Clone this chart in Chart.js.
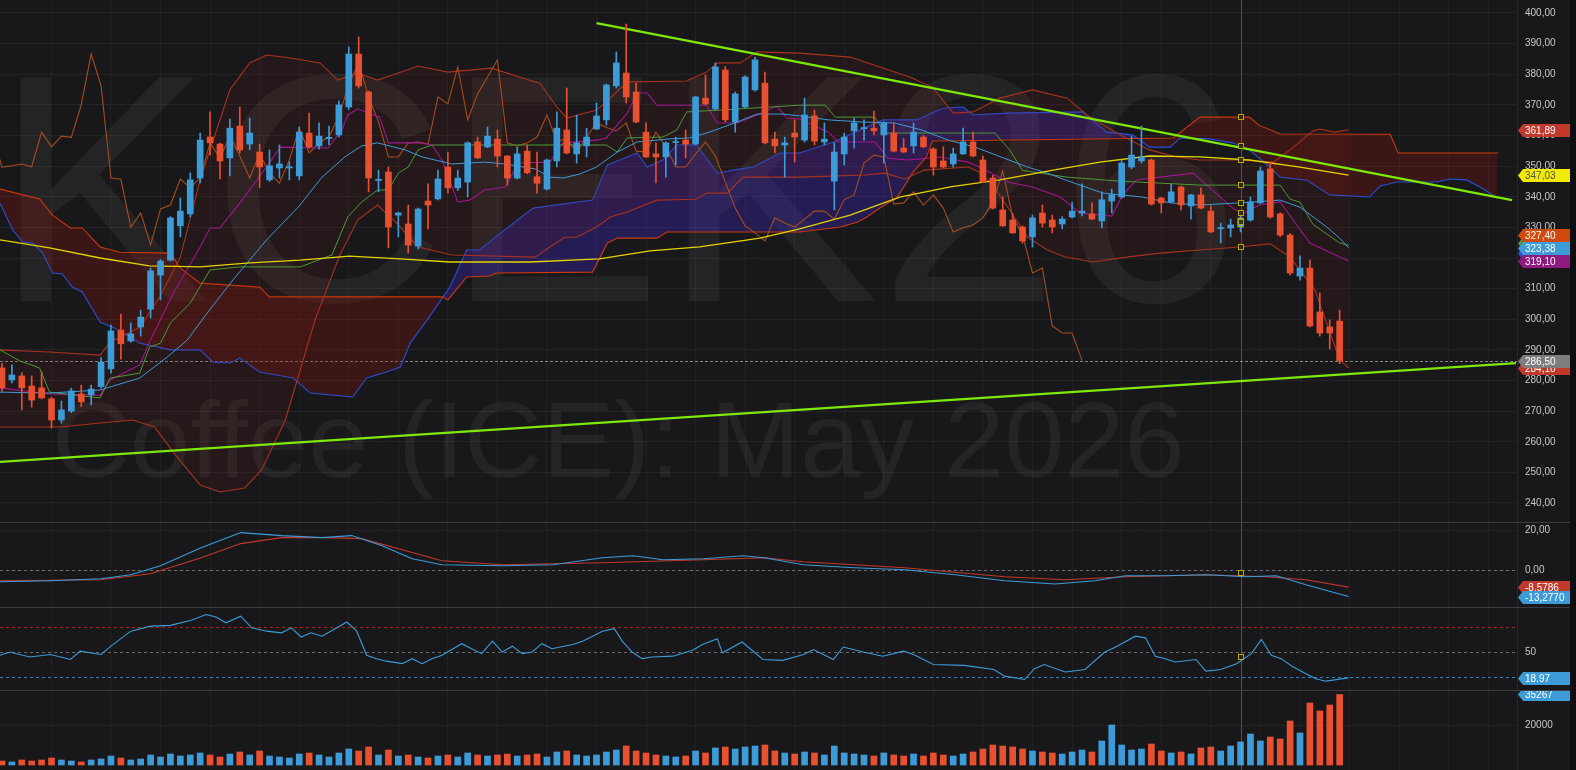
<!DOCTYPE html>
<html>
<head>
<meta charset="utf-8">
<script src="https://cdn.jsdelivr.net/npm/chart.js@4.4.1/dist/chart.umd.min.js"></script>
<style>
html, body { margin: 0; padding: 0; background: #18181b; overflow: hidden; }
#wrap { position: relative; width: 1576px; height: 770px; background: #18181b; }
.panel { position: absolute; left: 0; width: 1576px; }
.sep { position: absolute; left: 0; width: 1570px; height: 1px; background: #3c3c40; }
#edge { position: absolute; left: 1570px; top: 0; width: 6px; height: 770px; background: #0e0e10; }
</style>
</head>
<body>
<div id="wrap">
  <div class="panel" style="top:0;height:522px"><canvas id="price" width="1576" height="522"></canvas></div>
  <div class="sep" style="top:522px"></div>
  <div class="panel" style="top:523px;height:84px"><canvas id="macd" width="1576" height="84"></canvas></div>
  <div class="sep" style="top:607px"></div>
  <div class="panel" style="top:608px;height:82px"><canvas id="rsi" width="1576" height="82"></canvas></div>
  <div class="sep" style="top:690px"></div>
  <div class="panel" style="top:691px;height:79px"><canvas id="vol" width="1576" height="79"></canvas></div>
  <div id="edge"></div>
</div>
<script>
// --- candles (one per session, index 0..135) ---
const candleOpen = [
  284.1, 280.2, 281.5, 278.2, 277.6, 274.0, 267.1, 270.0, 275.6, 275.3,
  278.0, 283.8, 296.5, 292.9, 297.5, 303.3, 314.4, 319.3, 330.5, 334.4,
  346.1, 359.5, 357.2, 352.7, 363.1, 357.2, 354.6, 345.5, 349.4, 349.4,
  346.8, 360.8, 356.6, 359.0, 360.2, 369.3, 386.6, 374.2, 345.3, 348.1,
  334.0, 331.1, 323.9, 338.6, 339.3, 349.7, 342.9, 344.8, 357.9, 356.3,
  358.8, 353.3, 346.1, 354.9, 346.5, 342.5, 351.7, 361.8, 354.0, 356.6,
  362.1, 365.1, 376.2, 380.4, 374.2, 361.1, 354.0, 353.0, 357.7, 358.5,
  357.2, 372.2, 368.7, 381.4, 364.4, 369.3, 374.9, 377.1, 358.8, 356.9,
  360.8, 358.5, 366.4, 357.9, 345.1, 354.0, 361.5, 362.2, 362.4, 360.2,
  360.8, 355.9, 356.6, 359.5, 355.6, 351.7, 350.7, 354.0, 357.9, 352.0,
  346.1, 335.7, 332.4, 330.1, 326.9, 334.7, 332.4, 331.1, 333.4, 334.7,
  334.4, 332.1, 338.6, 339.9, 349.7, 351.7, 352.0, 339.6, 338.3, 343.2,
  337.0, 340.6, 335.3, 329.6, 329.8, 330.1, 332.4, 338.0, 349.1, 334.4,
  327.5, 314.1, 316.7, 302.4, 297.5, 299.4
];
const candleHigh = [
  285.5, 285.1, 282.5, 281.5, 282.9, 274.5, 273.3, 277.5, 278.5, 278.5,
  287.5, 298.1, 301.7, 298.8, 303.0, 316.7, 319.5, 333.5, 339.6, 347.8,
  360.8, 367.7, 357.5, 365.4, 369.3, 365.7, 357.2, 355.3, 356.9, 351.4,
  362.8, 367.3, 364.1, 363.1, 371.3, 388.9, 392.2, 374.5, 348.7, 349.7,
  335.0, 337.3, 336.3, 344.2, 348.7, 354.6, 348.7, 357.9, 359.5, 362.8,
  361.8, 353.5, 356.2, 356.9, 354.6, 352.3, 367.7, 375.5, 366.7, 362.4,
  370.6, 376.8, 387.3, 396.4, 377.1, 364.1, 357.6, 357.9, 359.5, 361.8,
  372.8, 379.8, 383.7, 382.5, 374.2, 379.5, 385.5, 380.7, 361.1, 359.5,
  365.1, 372.2, 368.3, 364.1, 357.6, 360.8, 365.7, 365.1, 368.0, 364.5,
  364.1, 359.0, 364.1, 360.0, 356.0, 356.3, 355.9, 362.4, 361.1, 353.3,
  347.0, 339.9, 334.5, 330.5, 334.0, 337.3, 334.0, 333.5, 338.3, 344.2,
  338.0, 341.6, 342.5, 352.0, 359.8, 363.1, 352.3, 339.8, 344.2, 343.5,
  340.8, 342.9, 337.0, 331.4, 332.7, 335.0, 339.9, 349.7, 351.3, 334.8,
  328.0, 320.7, 319.3, 308.6, 299.8, 303.0
];
const candleLow = [
  276.5, 279.2, 270.4, 271.3, 274.0, 264.5, 266.1, 269.5, 271.5, 272.0,
  277.5, 282.4, 287.0, 292.5, 294.5, 300.4, 306.3, 319.0, 326.9, 333.4,
  344.5, 353.6, 345.8, 346.8, 354.3, 355.3, 342.9, 345.0, 346.1, 345.5,
  345.5, 355.9, 355.5, 357.0, 359.5, 368.5, 375.5, 341.6, 341.6, 323.3,
  326.9, 321.6, 323.0, 329.5, 339.0, 341.2, 342.0, 339.9, 352.5, 356.0,
  349.7, 343.8, 345.8, 347.5, 341.2, 342.2, 349.7, 354.0, 351.0, 353.0,
  362.0, 363.4, 375.5, 370.6, 364.2, 352.8, 344.5, 346.4, 350.4, 352.7,
  357.0, 370.0, 368.3, 364.5, 361.1, 369.0, 374.5, 357.3, 354.3, 346.4,
  351.3, 357.9, 356.9, 356.9, 335.7, 350.4, 355.9, 358.5, 360.2, 351.0,
  354.6, 354.4, 354.3, 356.0, 347.1, 349.5, 349.7, 353.8, 353.0, 344.6,
  336.0, 330.3, 328.0, 324.9, 323.6, 330.1, 328.2, 329.5, 333.1, 333.7,
  332.5, 329.8, 334.7, 339.5, 349.1, 351.0, 337.3, 334.7, 338.0, 335.7,
  332.7, 336.0, 328.3, 324.9, 326.9, 328.5, 332.0, 337.8, 333.0, 327.0,
  314.5, 312.8, 297.5, 294.5, 290.3, 285.5
];
const candleClose = [
  277.6, 281.8, 277.6, 273.6, 274.3, 267.1, 270.4, 276.6, 273.0, 277.2,
  286.0, 296.2, 292.0, 295.2, 300.7, 315.8, 319.0, 333.1, 335.3, 345.5,
  358.5, 357.6, 351.7, 362.4, 355.3, 360.8, 349.7, 350.1, 350.7, 349.8,
  361.1, 356.3, 359.8, 359.4, 370.0, 386.6, 376.2, 346.1, 345.7, 330.1,
  334.7, 324.2, 336.0, 337.3, 345.8, 342.9, 346.1, 357.6, 352.7, 359.8,
  353.3, 346.1, 354.0, 347.8, 344.4, 352.0, 362.4, 354.3, 357.6, 359.5,
  366.4, 376.5, 383.7, 372.6, 364.4, 353.0, 353.0, 357.6, 357.9, 357.2,
  372.6, 370.3, 382.4, 365.1, 373.6, 379.1, 384.7, 357.6, 356.6, 357.6,
  359.5, 366.7, 358.2, 358.8, 354.6, 359.5, 364.1, 362.6, 361.5, 364.1,
  354.9, 354.6, 361.1, 356.3, 349.7, 349.7, 354.0, 357.9, 353.3, 344.8,
  336.3, 330.5, 328.2, 325.6, 333.1, 331.4, 330.1, 332.7, 335.3, 335.3,
  332.7, 339.0, 340.6, 351.0, 353.6, 353.0, 337.6, 338.0, 341.6, 337.3,
  340.6, 336.3, 328.5, 329.9, 330.8, 333.1, 338.3, 348.4, 333.4, 327.5,
  315.1, 316.7, 297.8, 295.5, 295.5, 286.5
];
const volumes = [
  2000, 1500, 2500, 2000, 2500, 3500, 2500, 2000, 1500, 2500,
  3000, 4500, 3500, 2500, 3000, 5000, 4000, 5500, 4500, 5000,
  6000, 5000, 4000, 5500, 6500, 5000, 7000, 4500, 4000, 3500,
  5500, 6000, 5000, 4000, 6000, 8000, 7000, 9000, 5000, 7500,
  4500, 5000, 4000, 3500, 4500, 5000, 4000, 6000, 5000, 4500,
  5000, 5500, 4500, 5000, 5500, 4000, 6500, 7000, 5000, 4500,
  5000, 6500, 7500, 9500, 7000, 6000, 5000, 4500, 4000, 4500,
  7000, 6000, 8500, 9000, 8000, 9000, 9500, 10000, 7000, 6000,
  5500, 6500, 6000, 5000, 9500, 6000, 5500, 5000, 4500, 6000,
  5000, 4500, 5500, 4500, 6000, 5000, 4500, 5500, 6500, 8000,
  10000, 9500, 9000, 8000, 7000, 6500, 6000, 5500, 6500, 7500,
  6500, 12000, 20000, 10000, 7500, 8000, 10500, 7000, 6000, 6500,
  5500, 8500, 9000, 7000, 9500, 11500, 15500, 12000, 14000, 13000,
  22000, 16000, 31000, 27000, 30000, 35267
];

// --- indicator lines: [session index, value] ---
const sma200 = [[-0.2,325.9],[4.8,323.3],[9.9,320.0],[14.9,317.4],[20,317.1],[25,318.4],[30.1,319.3],[35.1,320.6],[40.2,319.7],[45.2,318.7],[53.3,318.7],[60.3,319.7],[65.4,322.3],[70.4,323.6],[76.5,326.5],[80.5,329.5],[85.6,334.0],[90.6,339.9],[95.7,343.2],[100.7,345.5],[106.8,349.1],[110.8,351.3],[115.8,353.3],[120.9,353.0],[125.9,352.0],[131,349.7],[135.9,347.03]];
const bbUpper = [[-0.2,290.0],[4.8,289.3],[9.9,288.3],[10.9,292.5],[13.9,297.4],[15.9,307.2],[18,320.3],[20,345.5],[23,374.9],[25,383.7],[26.7,386.3],[29.1,385.3],[32.1,383.7],[33.9,378.1],[35.9,380.4],[37.9,378.1],[40,380.4],[42,382.7],[45,380.7],[49.4,382.0],[53.8,377.5],[54.3,377.1],[56,369.3],[57,365.7],[60,368.3],[61.4,372.2],[62.4,375.5],[63.4,377.5],[69.1,377.8],[71.1,380.7],[72.2,383.7],[74.5,383.7],[76.2,387.3],[80.5,386.9],[85.6,385.6],[91.6,379.1],[93.9,375.8],[96,367.3],[98,367.7],[100.7,372.2],[104,374.9],[107.5,372.2],[109.5,366.7],[112.5,360.8],[115.8,355.3],[118.6,353.0],[120.9,352.0],[124.9,352.0],[128.3,351.3],[130,355.3],[132.3,361.5],[133,362.1],[134.5,361.1],[135.9,361.89]];
const bbLower = [[-0.2,264.8],[5.9,264.8],[9.9,266.1],[13.2,267.1],[15.4,264.8],[17.5,255.7],[20,245.9],[22,243.6],[24.5,244.9],[26.2,250.8],[28.6,267.1],[31.6,299.8],[34.1,321.0],[35.9,332.4],[37.9,337.3],[40,330.8],[42,323.6],[45.4,321.0],[53.8,320.3],[55.3,323.6],[56.8,326.8],[58,326.8],[60,330.1],[61.4,333.4],[63.1,335.0],[66.1,338.9],[70.1,339.2],[71.1,341.2],[73.2,341.2],[74.8,346.4],[80.5,346.4],[87.1,347.1],[89.1,347.7],[91.1,345.8],[93.1,348.7],[97.5,349.7],[98.9,347.7],[100.2,342.8],[101.9,334.7],[103.5,326.8],[105.5,322.6],[107.3,320.3],[110.1,318.7],[113.5,320.3],[116.9,321.6],[120.9,322.6],[124.9,323.6],[128,324.6],[130,320.3],[132.5,309.6],[135,286.7],[135.9,284.1]];
const sma20 = [[-0.2,277.6],[4.8,275.6],[9.9,275.2],[10.9,280.2],[13.9,285.1],[14.9,292.6],[17.3,308.6],[20,323.6],[21,329.8],[22,329.8],[24,337.9],[26.7,349.7],[28.1,356.2],[32.9,355.9],[34.3,361.8],[34.9,366.7],[35.9,368.7],[38.1,366.0],[39,357.6],[42.2,357.6],[43.4,356.9],[44.4,352.0],[46,338.3],[47.2,338.9],[48.7,342.2],[50.8,343.2],[52.1,351.0],[55.3,351.3],[56.6,357.6],[60,358.5],[61,359.2],[63.1,367.3],[64.1,373.9],[65.1,373.9],[66.1,369.9],[71.1,369.9],[72.2,364.1],[74.2,364.1],[76.2,366.7],[78.2,369.6],[79.2,365.7],[80.5,365.4],[83.4,361.1],[84.4,357.9],[88.1,357.9],[89.4,352.6],[91.4,352.0],[94.7,353.0],[97.5,351.3],[98.9,349.4],[101.5,344.8],[104,343.2],[106.8,339.9],[108.8,334.7],[112,333.7],[113.1,340.6],[114.5,345.5],[116.9,346.4],[120.2,347.7],[121.6,343.8],[124.2,336.3],[125.2,334.4],[126.9,337.3],[129,338.3],[130.3,332.4],[132,324.9],[135,320.3],[135.9,319.1]];
const sma50 = [[-0.2,276.2],[4.8,275.9],[9.9,276.9],[13.9,280.8],[16.7,287.7],[18.7,293.2],[20.7,302.0],[23.3,312.8],[26.7,325.9],[29.9,336.6],[32.3,346.4],[34.6,353.0],[36.3,356.6],[37.9,357.6],[40.7,355.3],[42.4,353.0],[45.4,350.7],[48.7,351.3],[50.8,350.7],[53.8,349.1],[55.3,346.4],[56.6,346.1],[58.3,347.4],[60,349.7],[62.1,354.6],[64.1,357.9],[67.4,358.9],[69.4,359.2],[71.4,361.1],[74.2,364.4],[76.2,367.0],[78.8,367.0],[80.5,366.4],[83.4,365.1],[86.8,364.4],[90.1,364.1],[92.8,361.8],[95.5,358.5],[98.2,356.2],[100.9,352.9],[103.5,349.7],[105.5,347.7],[107.3,345.5],[111.1,341.2],[115.1,339.9],[117.9,338.0],[120.9,337.3],[124.9,338.0],[129,338.9],[131,336.6],[133.7,330.1],[135,326.5],[135.9,323.38]];
const kijun = [[-0.2,290.0],[1.8,286.4],[3.8,284.1],[4.8,276.2],[9.9,274.3],[10.9,280.8],[13.9,282.4],[14.9,290.9],[16,292.2],[17,298.8],[19,305.3],[21,316.1],[24,317.1],[30.1,317.1],[33.3,321.0],[34.9,333.4],[36.3,338.3],[37.9,342.2],[39,342.2],[40,347.7],[41,349.7],[42,355.3],[43.4,356.9],[61,356.9],[62.1,354.6],[63.1,359.2],[66.7,359.5],[68.1,361.8],[69.1,367.7],[72.5,368.3],[80.5,369.9],[83.1,369.9],[84.1,366.0],[88.1,366.0],[89.1,360.8],[100.2,360.8],[101.7,355.3],[103,348.6],[107.5,346.4],[112.8,345.1],[120.9,343.8],[129,343.8],[130,339.2],[131,338.2],[132.3,331.0],[135,324.9],[135.9,324.2]];
const senkouA = [[-0.2,337.9],[1.1,329.1],[2.1,325.2],[3.1,324.9],[4.1,321.6],[5.1,315.1],[6.1,314.8],[7.1,310.5],[8.1,308.9],[9.9,299.1],[11.4,297.1],[13.9,292.2],[17,290.0],[20,290.0],[21.3,286.0],[23,285.7],[24,287.3],[26,282.8],[29.4,280.8],[31.1,275.9],[35.4,274.6],[36.8,280.8],[38.8,282.8],[40.2,284.4],[41.2,292.2],[42.9,299.7],[45.2,310.5],[46.9,322.6],[48.2,322.6],[50.3,328.1],[53.6,336.3],[59.6,338.9],[61.1,350.4],[63.1,353.0],[64.1,354.3],[65.1,349.7],[66.7,352.0],[68.1,356.9],[70.1,356.9],[72.2,347.7],[73.8,348.7],[75.8,349.7],[77.2,352.0],[78.5,354.3],[80.5,354.3],[83.9,357.9],[88.9,365.1],[92.3,365.1],[95,369.0],[97,369.3],[98,366.7],[101.4,367.3],[109.1,367.7],[111.5,361.1],[114.1,360.2],[115.8,356.2],[117.9,356.2],[118.9,359.2],[121.9,358.9],[124.2,357.6],[125.9,355.3],[127.3,351.5],[129,346.4],[131.7,345.4],[134,340.6],[138,339.9],[139.1,343.5],[140.8,344.8],[144.8,344.8],[146.1,345.8],[147.8,345.5],[149.4,342.8],[150.9,339.6]];
const senkouB = [[-0.2,342.5],[3.8,339.3],[5.1,334.0],[6.9,329.8],[8.1,329.8],[9.9,323.6],[11.9,321.9],[17,321.6],[18,316.7],[20,311.8],[26,310.5],[27,307.3],[44.5,307.3],[45,306.3],[46.9,313.8],[49.2,314.1],[49.9,315.1],[59.6,315.4],[61.1,324.9],[62.1,326.5],[66.1,326.5],[67.1,328.5],[80.5,328.5],[84.6,330.1],[86.3,331.7],[87.3,333.4],[88.6,336.3],[90.3,339.6],[91.9,347.8],[93.3,353.0],[93.9,358.2],[118.2,359.2],[120.9,366.0],[125.9,366.0],[126.9,363.3],[129,360.5],[140.1,360.4],[140.9,354.3],[151,354.3]];
const trendUpper = [[60.0,396.7],[152.4,338.9]];
const trendLower = [[-0.2,253.4],[152.8,285.7]];

// --- lower panels ---
const macdLine = [[-0.2,-5.9],[4.9,-5.4],[10,-4.4],[13,-2.4],[16,2.1],[20.1,11.1],[24.1,18.7],[28.2,17.2],[32.3,16.2],[35.3,17.2],[38.3,12.2],[41.4,5.6],[44.4,2.6],[50.5,2.1],[55.6,2.6],[60.6,6.1],[63.7,7.1],[66.7,5.1],[70.8,5.6],[74.8,7.1],[76.9,6.1],[80.9,2.6],[86,1.1],[91.1,0.1],[96.2,-2.4],[101.2,-5.4],[106.3,-7.0],[110.3,-5.4],[113.4,-2.9],[117.4,-2.9],[121.5,-2.4],[125.6,-3.4],[128.6,-2.9],[131.6,-7.4],[135.9,-13.277]];
const macdSignal = [[-0.2,-5.4],[10,-4.9],[15,-1.9],[20.1,6.1],[24.1,13.2],[28.2,16.2],[32.3,16.2],[36.3,15.7],[40.4,10.1],[44.4,4.6],[50.5,2.6],[60.6,3.6],[70.8,5.1],[76.9,6.1],[80.9,4.1],[91.1,1.1],[101.2,-3.4],[107.3,-4.9],[113.4,-3.4],[121.5,-2.4],[127.6,-3.4],[131.6,-4.9],[135.9,-8.5786]];
const rsiLine = [[-0.2,46],[0.8,50],[2.8,44],[4.9,47],[6.9,41],[7.9,51],[10,47],[11,57],[13,75],[15,81],[17,82],[19.1,88],[20.6,95],[21.6,92],[22.6,85],[24.1,93],[25.2,79],[26.7,75],[28.2,73],[29.2,79],[30.2,68],[31.2,73],[32.3,69],[33.8,79],[34.8,86],[35.8,75],[36.8,46],[37.8,42],[38.8,39],[40.4,36],[41.4,42],[42.4,36],[43.4,42],[44.4,46],[46.4,60],[47.4,54],[48.4,48],[49.5,63],[50.5,50],[51.5,57],[52.5,48],[53.5,50],[54.5,60],[55.5,54],[57.6,59],[58.6,63],[60.6,75],[61.8,78],[62.6,63],[63.6,50],[64.6,42],[65.6,44],[67.7,45],[69.7,52],[70.7,59],[72.2,66],[72.7,49],[74.7,62],[76.8,41],[78.8,40],[80.9,47],[81.9,53],[83.9,41],[84.9,56],[86.9,50],[88.9,45],[91,51],[92,47],[94,35],[97.1,34],[100.1,29],[101.2,21],[103.2,17],[104.2,30],[105.2,35],[107.3,26],[109.3,29],[111.3,50],[112.4,56],[114.4,69],[115.4,67],[116.4,45],[117.4,42],[118.4,38],[120.5,41],[121.5,27],[123,29],[124.6,36],[126.1,48],[127.1,65],[128.1,46],[129.1,42],[130.2,33],[131.6,24],[132.6,18],[133.6,15],[135.9,18.97]];

// --- axis labels, grid, tags ---
const gridIdx = [5, 11, 16, 21, 26, 30, 35, 40, 45, 50, 55, 60, 65, 70, 75, 80, 85, 89, 94, 99, 104, 108, 113, 117, 122, 127, 131, 136, 141, 146, 150];
const cursorIdx = 125;
const lastPrice = 286.5;
const priceTags = [
  { v: 284.1, t: '284,10', c: '#c0392b' },
  { v: 286.5, t: '286,50', c: '#7d7d7d' },
  { v: 324.9, t: '324,90', c: '#4c9a35' },
  { v: 321.6, t: '321,60', c: '#2a4fd6' },
  { v: 323.38, t: '323,38', c: '#3d9bd8' },
  { v: 327.4, t: '327,40', c: '#cf4a0c' },
  { v: 319.1, t: '319,10', c: '#8e1a80' },
  { v: 347.03, t: '347,03', c: '#f2ea00', f: '#555' },
  { v: 361.89, t: '361,89', c: '#c0392b' }
];
const priceMarks = [366.0, 356.6, 352.0, 343.8, 338.0, 334.7, 331.8, 323.6];
const macdTags = [{ v: -8.5786, t: '-8,5786', c: '#c0392b' }, { v: -13.277, t: '-13,2770', c: '#3d9bd8' }];
const rsiTags = [{ v: 18.97, t: '18.97', c: '#3d9bd8' }];
const volTags = [{ v: 35267, t: '35267', c: '#3d9bd8' }];

const UP = '#3d9bd8', DOWN = '#e8502f';
const FONT = '"Liberation Sans", Arial, sans-serif';
const X_MIN = -0.2, X_MAX = 152.9;
const idx = candleOpen.map((_, i) => i);
const isUp = idx.map(i => candleClose[i] >= candleOpen[i]);
const pts = arr => arr.map(p => ({ x: p[0], y: p[1] }));

function xScale() {
  return {
    type: 'linear', min: X_MIN, max: X_MAX, offset: false,
    ticks: { display: false },
    grid: { color: 'rgba(255,255,255,0.045)', drawTicks: false, offset: false },
    border: { display: false },
    afterBuildTicks: s => { s.ticks = gridIdx.map(v => ({ value: v })); },
    afterFit: s => { s.height = 0; s.paddingLeft = 0; s.paddingRight = 0; }
  };
}
function yScale(min, max, ticks, fmt, showGrid) {
  return {
    position: 'right', min, max,
    ticks: { color: '#c8c8c8', font: { family: FONT, size: 10 }, padding: 8, callback: fmt },
    grid: { color: showGrid ? 'rgba(255,255,255,0.05)' : 'transparent', drawTicks: false },
    border: { display: true, color: 'rgba(255,255,255,0.07)' },
    afterBuildTicks: s => { s.ticks = ticks.map(v => ({ value: v })); },
    afterFit: s => { s.width = 59; s.paddingTop = 0; s.paddingBottom = 0; }
  };
}
function line(data, color, width, extra) {
  return Object.assign({ type: 'line', data: pts(data), borderColor: color, borderWidth: width, pointRadius: 0, tension: 0, fill: false }, extra || {});
}

function drawTag(chart, tag) {
  const ctx = chart.ctx;
  const y = Math.round(chart.scales.y.getPixelForValue(tag.v)) + 0.5;
  const x0 = chart.chartArea.right;
  ctx.save();
  ctx.fillStyle = tag.c;
  ctx.beginPath();
  ctx.moveTo(x0 + 1, y);
  ctx.lineTo(x0 + 6, y - 6.5);
  ctx.lineTo(1570, y - 6.5);
  ctx.lineTo(1570, y + 6.5);
  ctx.lineTo(x0 + 6, y + 6.5);
  ctx.closePath();
  ctx.fill();
  ctx.fillStyle = tag.f || '#ffffff';
  ctx.font = '10px ' + FONT;
  ctx.textBaseline = 'middle';
  ctx.fillText(tag.t, x0 + 8, y + 0.5);
  ctx.restore();
}
function drawCursor(chart) {
  const ctx = chart.ctx;
  const x = Math.round(chart.scales.x.getPixelForValue(cursorIdx)) + 0.5;
  ctx.save();
  ctx.strokeStyle = 'rgba(190,190,190,0.35)';
  ctx.lineWidth = 1;
  ctx.beginPath(); ctx.moveTo(x, 0); ctx.lineTo(x, chart.height); ctx.stroke();
  ctx.restore();
}
function drawMark(chart, v) {
  const ctx = chart.ctx;
  const x = Math.round(chart.scales.x.getPixelForValue(cursorIdx));
  const y = Math.round(chart.scales.y.getPixelForValue(v));
  ctx.save();
  ctx.strokeStyle = '#b8a800'; ctx.lineWidth = 1;
  ctx.fillStyle = 'rgba(30,30,20,0.8)';
  ctx.fillRect(x - 2.5, y - 2.5, 5, 5);
  ctx.strokeRect(x - 2.5, y - 2.5, 5, 5);
  ctx.restore();
}
function hline(chart, v, color, dash) {
  const ctx = chart.ctx, a = chart.chartArea;
  const y = Math.round(chart.scales.y.getPixelForValue(v)) + 0.5;
  ctx.save();
  ctx.strokeStyle = color; ctx.lineWidth = 1; ctx.setLineDash(dash);
  ctx.beginPath(); ctx.moveTo(a.left, y); ctx.lineTo(a.right, y); ctx.stroke();
  ctx.restore();
}

const baseOpts = {
  responsive: false, animation: false, events: [],
  layout: { padding: 0 },
  plugins: { legend: { display: false }, tooltip: { enabled: false } }
};
const fmt2 = v => v.toFixed(2).replace('.', ',');

// ---------- price panel ----------
const priceDecor = {
  id: 'priceDecor',
  beforeDatasetsDraw(chart) {
    const ctx = chart.ctx, a = chart.chartArea;
    ctx.save();
    ctx.beginPath(); ctx.rect(a.left, a.top, a.right - a.left, a.bottom - a.top); ctx.clip();
    ctx.fillStyle = 'rgba(255,255,255,0.055)';
    ctx.font = '325px ' + FONT;
    ctx.fillText('KCEK26', -6, 301);
    ctx.font = '108px ' + FONT;
    ctx.fillText('Coffee (ICE): May 2026', 52, 477);
    ctx.restore();
    hline(chart, lastPrice, 'rgba(170,170,170,0.75)', [3, 2]);
  },
  afterDatasetsDraw(chart) {
    drawCursor(chart);
    priceMarks.forEach(v => drawMark(chart, v));
  },
  afterDraw(chart) { priceTags.forEach(t => drawTag(chart, t)); }
};

new Chart(document.getElementById('price'), {
  type: 'bar',
  data: {
    datasets: [
      { type: 'bar', data: idx.map(i => ({ x: i, y: [candleOpen[i], candleClose[i]] })),
        backgroundColor: idx.map(i => isUp[i] ? UP : DOWN),
        borderColor: idx.map(i => i === cursorIdx ? '#c8b400' : 'transparent'),
        borderWidth: idx.map(i => i === cursorIdx ? 1 : 0),
        borderSkipped: false, barThickness: 6, minBarLength: 1, grouped: false },
      { type: 'bar', data: idx.map(i => ({ x: i, y: [candleLow[i], candleHigh[i]] })),
        backgroundColor: idx.map(i => isUp[i] ? UP : DOWN),
        barThickness: 1, grouped: false },
      line(trendUpper, '#7ee80a', 2.2),
      line(trendLower, '#7ee80a', 2.2),
      line(sma200, '#e3d400', 1.3),
      line(sma50, '#3d9bd8', 1),
      line(kijun, '#4c9a35', 1),
      line(sma20, '#a0178f', 1.1),
      line(candleClose.map((c, i) => [i - 26, c]), '#a54d1e', 1.1),
      line(bbLower, '#a8321f', 1.1),
      line(bbUpper, '#a8321f', 1.1, { fill: { target: '-1', above: 'rgba(140,30,20,0.11)', below: 'rgba(140,30,20,0.11)' } }),
      line(senkouB, '#cc3a0a', 1.1),
      line(senkouA, '#2a4fd6', 1.1, { fill: { target: '-1', above: 'rgba(70,40,220,0.30)', below: 'rgba(140,20,15,0.30)' } })
    ]
  },
  options: Object.assign({}, baseOpts, {
    scales: {
      x: xScale(),
      y: yScale(400 - 509 / 3.0625, 400 + 13 / 3.0625, [240, 250, 260, 270, 280, 290, 300, 310, 320, 330, 340, 350, 360, 370, 380, 390, 400], fmt2, true)
    }
  }),
  plugins: [priceDecor]
});

// ---------- MACD ----------
new Chart(document.getElementById('macd'), {
  type: 'line',
  data: {
    datasets: [
      line(macdLine, '#3d9bd8', 1.1),
      line(macdSignal, '#c0392b', 1.1)
    ]
  },
  options: Object.assign({}, baseOpts, {
    scales: { x: xScale(), y: yScale(-18.5, 23.5, [20, 0], fmt2, true) }
  }),
  plugins: [{
    id: 'macdDecor',
    beforeDatasetsDraw(chart) { hline(chart, 0, 'rgba(160,160,160,0.6)', [3, 3]); },
    afterDatasetsDraw(chart) { drawCursor(chart); drawMark(chart, -1.5); },
    afterDraw(chart) { macdTags.forEach(t => drawTag(chart, t)); }
  }]
});

// ---------- RSI ----------
new Chart(document.getElementById('rsi'), {
  type: 'line',
  data: { datasets: [line(rsiLine, '#3d9bd8', 1.1)] },
  options: Object.assign({}, baseOpts, {
    scales: { x: xScale(), y: yScale(4.4, 102.8, [50], v => String(v), false) }
  }),
  plugins: [{
    id: 'rsiDecor',
    beforeDatasetsDraw(chart) {
      hline(chart, 80, 'rgba(200,50,30,0.75)', [3, 3]);
      hline(chart, 50, 'rgba(160,160,160,0.6)', [3, 3]);
      hline(chart, 20, 'rgba(60,155,216,0.8)', [3, 3]);
    },
    afterDatasetsDraw(chart) { drawCursor(chart); drawMark(chart, 44); },
    afterDraw(chart) { rsiTags.forEach(t => drawTag(chart, t)); }
  }]
});

// ---------- volume ----------
new Chart(document.getElementById('vol'), {
  type: 'bar',
  data: {
    datasets: [{
      data: idx.map(i => ({ x: i, y: volumes[i] })),
      backgroundColor: idx.map(i => isUp[i] ? UP : DOWN),
      barThickness: 6, grouped: false
    }]
  },
  options: Object.assign({}, baseOpts, {
    scales: { x: xScale(), y: yScale(-2500, 37000, [20000], v => String(v), true) }
  }),
  plugins: [{
    id: 'volDecor',
    afterDatasetsDraw(chart) { drawCursor(chart); },
    afterDraw(chart) { volTags.forEach(t => drawTag(chart, t)); }
  }]
});
</script>
</body>
</html>
